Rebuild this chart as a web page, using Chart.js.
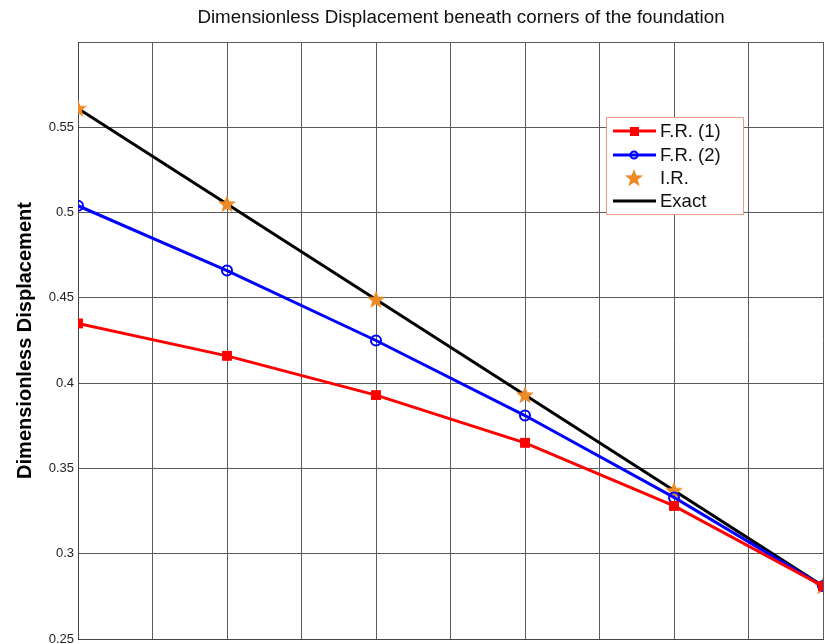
<!DOCTYPE html>
<html>
<head>
<meta charset="utf-8">
<script src="https://cdn.jsdelivr.net/npm/chart.js@4/dist/chart.umd.min.js"></script>
<style>
  body { margin: 0; background: #fff; }
  canvas { display: block; }
</style>
</head>
<body>
<canvas id="myChart" width="825" height="644"></canvas>
<script>
// datos
const xValues = [0, 2, 4, 6, 8, 10];
const fr1 = [0.435, 0.416, 0.393, 0.365, 0.328, 0.281];
const fr2 = [0.504, 0.466, 0.425, 0.381, 0.333, 0.281];
const irValues = [0.561, 0.505, 0.449, 0.393, 0.337, 0.281];
const exactValues = [0.561, 0.505, 0.449, 0.393, 0.337, 0.281];
const yTicks = [0.25, 0.3, 0.35, 0.4, 0.45, 0.5, 0.55];

const FONT = "'Liberation Sans', Arial, sans-serif";

function pts(ys) {
    return xValues.map((x, i) => ({ x: x, y: ys[i] }));
}

// estrella de 5 puntas para I.R.
function makeStar(color) {
    const c = document.createElement('canvas');
    c.width = 22; c.height = 22;
    const g = c.getContext('2d');
    g.beginPath();
    for (let i = 0; i < 10; i++) {
        const r = i % 2 === 0 ? 9.5 : 4;
        const a = -Math.PI / 2 + i * Math.PI / 5;
        const px = 11 + r * Math.cos(a), py = 11.5 + r * Math.sin(a);
        if (i === 0) g.moveTo(px, py); else g.lineTo(px, py);
    }
    g.closePath();
    g.fillStyle = color;
    g.fill();
    return c;
}
const starImg = makeStar('#ee8a25');

// titulo y leyenda dibujados a mano
const extras = {
    id: 'extras',
    afterDraw(chart) {
        const ctx = chart.ctx;
        ctx.save();
        ctx.fillStyle = '#111';
        ctx.font = '18.8px ' + FONT;
        ctx.textAlign = 'center';
        ctx.textBaseline = 'middle';
        ctx.fillText('Dimensionless Displacement beneath corners of the foundation', 461, 18);

        // leyenda
        const bx = 606, by = 117, bw = 137, bh = 97;
        ctx.fillStyle = '#fff';
        ctx.fillRect(bx, by, bw, bh);
        ctx.strokeStyle = '#ee9a88';
        ctx.lineWidth = 1;
        ctx.strokeRect(bx + 0.5, by + 0.5, bw, bh);
        const rows = [131, 155, 178, 201];
        chart.data.datasets.forEach((ds, i) => {
            const y = rows[i];
            if (ds.showLine !== false) {
                ctx.strokeStyle = ds.borderColor;
                ctx.lineWidth = 3;
                ctx.beginPath();
                ctx.moveTo(613, y);
                ctx.lineTo(656, y);
                ctx.stroke();
            }
            if (ds.pointRadius > 0) {
                if (ds.pointStyle === 'rect') {
                    ctx.fillStyle = ds.pointBackgroundColor;
                    ctx.fillRect(630, y - 4, 9, 9);
                } else if (ds.pointStyle === 'circle') {
                    ctx.strokeStyle = ds.pointBorderColor;
                    ctx.lineWidth = 2;
                    ctx.beginPath();
                    ctx.arc(634, y, 3.5, 0, Math.PI * 2);
                    ctx.stroke();
                } else {
                    ctx.drawImage(starImg, 634 - 11, y - 11);
                }
            }
            ctx.fillStyle = '#111';
            ctx.font = '18.5px ' + FONT;
            ctx.textAlign = 'left';
            ctx.fillText(ds.label, 660, y + 1);
        });
        ctx.restore();
    }
};

const ctx = document.getElementById('myChart').getContext('2d');
const chart = new Chart(ctx, {
    type: 'line',
    data: {
        datasets: [{
            label: 'F.R. (1)',
            data: pts(fr1),
            borderColor: '#ff0000',
            borderWidth: 3,
            pointStyle: 'rect',
            pointRadius: 7,
            pointBackgroundColor: '#ff0000',
            pointBorderColor: '#ff0000',
            pointBorderWidth: 0,
            tension: 0
        }, {
            label: 'F.R. (2)',
            data: pts(fr2),
            borderColor: '#0000ff',
            borderWidth: 3,
            pointStyle: 'circle',
            pointRadius: 5,
            pointBackgroundColor: 'rgba(0,0,0,0)',
            pointBorderColor: '#0000ff',
            pointBorderWidth: 2,
            tension: 0
        }, {
            label: 'I.R.',
            data: pts(irValues),
            showLine: false,
            borderColor: '#ee8a25',
            pointStyle: starImg,
            pointRadius: 10
        }, {
            label: 'Exact',
            data: pts(exactValues),
            borderColor: '#000000',
            borderWidth: 3,
            pointRadius: 0,
            tension: 0
        }]
    },
    options: {
        responsive: false,
        devicePixelRatio: 1,
        animation: false,
        layout: { autoPadding: false, padding: { top: 42, right: 2, left: 0, bottom: 0 } },
        plugins: {
            legend: { display: false },
            title: { display: false },
            tooltip: { enabled: false }
        },
        scales: {
            x: {
                type: 'linear',
                min: 0,
                max: 10,
                ticks: { stepSize: 1, display: false },
                grid: { color: '#5a5a5a', lineWidth: 1, drawTicks: false },
                border: { color: '#444' },
                afterFit(scale) {
                    scale.height = 5;
                    scale.paddingLeft = 0;
                    scale.paddingRight = 0;
                }
            },
            y: {
                min: 0.25,
                max: 0.6,
                afterBuildTicks(scale) {
                    scale.ticks = yTicks.concat([0.6]).map(v => ({ value: v }));
                },
                ticks: {
                    color: '#222',
                    font: { family: FONT, size: 13 },
                    padding: 4,
                    callback: v => (Math.abs(v - 0.6) < 1e-9 ? '' : String(+v.toFixed(2)))
                },
                grid: { color: '#5a5a5a', lineWidth: 1, drawTicks: false },
                border: { color: '#444' },
                title: {
                    display: true,
                    text: 'Dimensionless Displacement',
                    color: '#000',
                    font: { family: FONT, size: 20, weight: 'bold' },
                    padding: { top: 13, bottom: 0 }
                },
                afterFit(scale) {
                    scale.width = 78;
                    scale.paddingTop = 0;
                    scale.paddingBottom = 0;
                }
            }
        }
    },
    plugins: [extras]
});
</script>
</body>
</html>
